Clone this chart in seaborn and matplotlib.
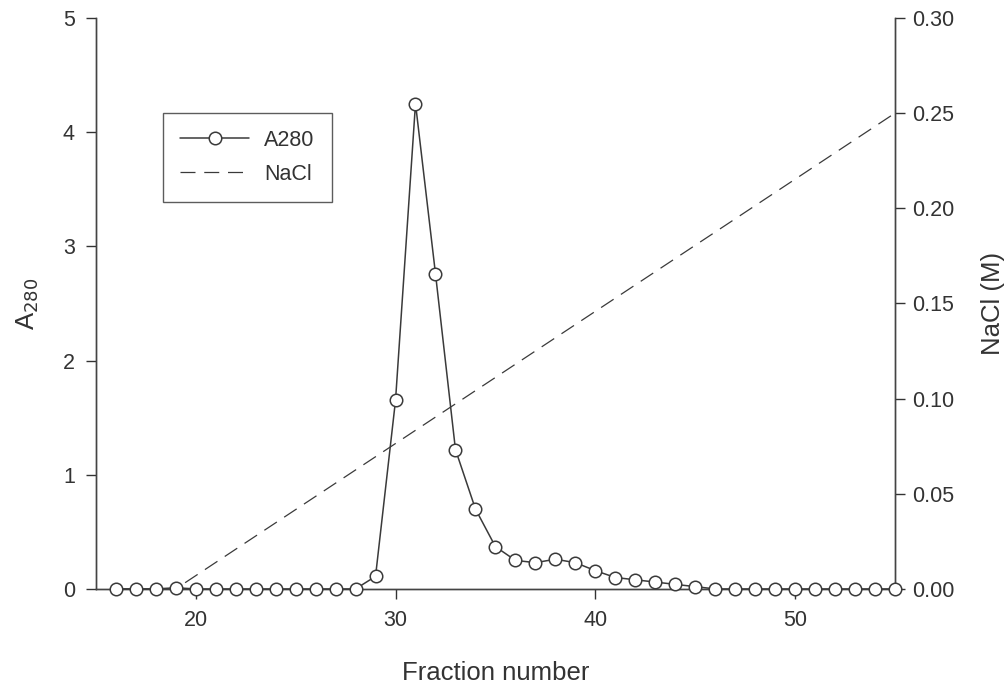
import matplotlib
matplotlib.use("Agg")
import matplotlib.pyplot as plt
import seaborn as sns
import pandas as pd

# Fracciones y absorbancia a 280 nm
fraccion = list(range(16, 56))
a280 = [0, 0, 0, 0.01, 0, 0, 0, 0, 0, 0, 0, 0, 0, 0.11,
        1.65, 4.25, 2.76, 1.22, 0.70, 0.37, 0.25, 0.23, 0.26, 0.23,
        0.16, 0.10, 0.08, 0.06, 0.04, 0.02,
        0, 0, 0, 0, 0, 0, 0, 0, 0, 0]

# Gradiente de NaCl
nacl_fraccion = [16, 19, 55]
nacl_molar = [0.0, 0.0, 0.25]

sns.set_style("ticks")
plt.rcParams['font.family'] = ['Liberation Sans', 'DejaVu Sans']

df = pd.DataFrame({'Fraction': fraccion, 'A280': a280})
df_nacl = pd.DataFrame({'Fraction': nacl_fraccion, 'NaCl': nacl_molar})

fig = plt.figure(figsize=(10.08, 6.88), dpi=100)
ax = fig.add_axes([0.095, 0.144, 0.793, 0.83])
ax2 = ax.twinx()

sns.lineplot(data=df_nacl, x='Fraction', y='NaCl', ax=ax2, color='#3a3a3a',
             linewidth=0.9, dashes=False, linestyle=(0, (12, 7)), label='NaCl', legend=False)
sns.lineplot(data=df, x='Fraction', y='A280', ax=ax, color='#3a3a3a', linewidth=1.1,
             marker='o', markersize=9, markerfacecolor='white', markeredgecolor='#3a3a3a',
             markeredgewidth=1.1, label='A280', legend=False, clip_on=False, zorder=5)
ax.set_zorder(ax2.get_zorder() + 1)
ax.patch.set_visible(False)

ax.set_xlim(15, 55)
ax.set_ylim(0, 5)
ax2.set_ylim(0, 0.30)
ax.set_xticks([20, 30, 40, 50])
ax.set_yticks([0, 1, 2, 3, 4, 5])
ax2.set_yticks([0, 0.05, 0.10, 0.15, 0.20, 0.25, 0.30])
ax2.set_yticklabels(['%.2f' % v for v in [0, 0.05, 0.10, 0.15, 0.20, 0.25, 0.30]])

ax.set_xlabel('Fraction number', fontsize=18.5, labelpad=22, color='#333333')
ax.set_ylabel('A$_{280}$', fontsize=18.5, labelpad=16, color='#333333')
ax2.set_ylabel('NaCl (M)', fontsize=18.5, labelpad=19, color='#333333')

for a in (ax, ax2):
    a.tick_params(direction='out', length=7, width=1, labelsize=15.5, colors='#333333')
    a.spines['top'].set_visible(False)
    for s in a.spines.values():
        s.set_color('#444444')
        s.set_linewidth(1)
ax.tick_params(axis='x', pad=8)
ax.tick_params(axis='y', pad=8)
ax2.tick_params(axis='y', pad=5)

h1, l1 = ax.get_legend_handles_labels()
h2, l2 = ax2.get_legend_handles_labels()
leg = ax.legend(h1 + h2, l1 + l2, loc='upper left', bbox_to_anchor=(0.084, 0.834),
                borderaxespad=0, fontsize=15.5, frameon=True, fancybox=False,
                edgecolor='#333333', handlelength=3.2, handletextpad=0.7,
                borderpad=0.8, labelspacing=0.6)
leg.get_frame().set_linewidth(1)
for t in leg.get_texts():
    t.set_color('#333333')

fig.savefig('out.png', dpi=100)
